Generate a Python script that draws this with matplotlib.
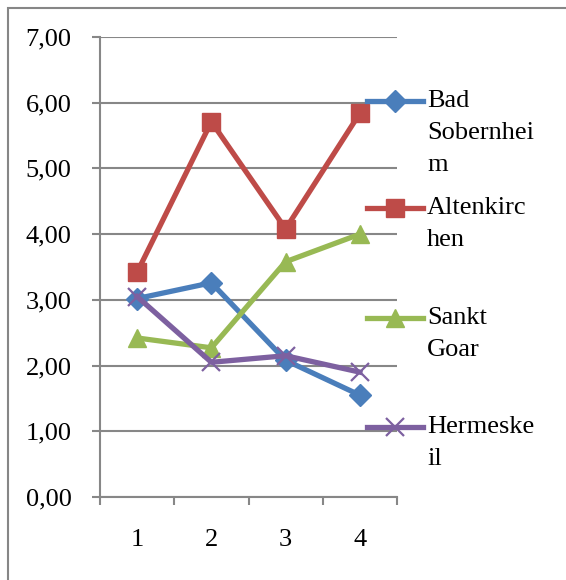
import matplotlib
matplotlib.use("Agg")
import matplotlib.pyplot as plt
from matplotlib.lines import Line2D
from matplotlib.patches import Rectangle

categories = [1, 2, 3, 4]
series_names = ["Bad\nSobernhei\nm", "Altenkirc\nhen", "Sankt\nGoar", "Hermeske\nil"]
bad_sobernheim = [3.02, 3.26, 2.08, 1.55]
altenkirchen = [3.42, 5.71, 4.08, 5.84]
sankt_goar = [2.42, 2.27, 3.58, 4.00]
hermeskeil = [3.05, 2.05, 2.15, 1.90]
y_ticks = [0, 1, 2, 3, 4, 5, 6, 7]
y_tick_labels = ["0,00", "1,00", "2,00", "3,00", "4,00", "5,00", "6,00", "7,00"]

colors = ["#4A7EBB", "#BE4B48", "#98B954", "#7D60A0"]
markers = ["D", "s", "^", "x"]
msizes = [11, 13, 13, 13]
values = [bad_sobernheim, altenkirchen, sankt_goar, hermeskeil]

W, H = 566, 580
fig = plt.figure(figsize=(W / 100, H / 100), dpi=100)
plt.rcParams['font.family'] = ['Liberation Serif', 'DejaVu Serif']
FS = 19

def fx(px):
    return px / W

def fy(py):
    return 1 - py / H

# outer border
fig.add_artist(Rectangle((fx(8), fy(590)), fx(570) - fx(8), fy(8) - fy(590),
                         transform=fig.transFigure, fill=False,
                         edgecolor="#868686", linewidth=1.5))

ax = fig.add_axes([fx(100), fy(497), fx(397) - fx(100), fy(37) - fy(497)])
grid_c = "#878787"
ax.set_xlim(0.5, 4.5)
ax.set_ylim(0, 7)
for s in ["top", "right"]:
    ax.spines[s].set_visible(False)
for s in ["left", "bottom"]:
    ax.spines[s].set_color(grid_c)
    ax.spines[s].set_linewidth(1.5)
ax.set_yticks(y_ticks)
ax.set_yticklabels(y_tick_labels)
ax.yaxis.grid(True, color=grid_c, linewidth=1.5)
ax.set_axisbelow(True)
ax.tick_params(axis="y", length=6, width=1.5, color=grid_c, pad=14.5, labelsize=FS)
ax.set_xticks(categories)
ax.set_xticklabels([str(c) for c in categories])
ax.set_xticks([0.5, 1.5, 2.5, 3.5, 4.5], minor=True)
ax.tick_params(axis="x", which="major", length=0, pad=23, labelsize=FS)
ax.tick_params(axis="x", which="minor", length=6, width=1.5, color=grid_c)

for vals, c, m, ms in zip(values, colors, markers, msizes):
    kw = dict(color=c, linewidth=3.8, marker=m, markersize=ms, clip_on=False)
    if m == "x":
        kw.update(markeredgewidth=1.6)
    ax.plot(categories, vals, **kw)

# legend (manual, Excel-like wrapped labels)
leg_y = [101, 208, 318, 427]
for name, c, m, ms, y in zip(series_names, colors, markers, msizes, leg_y):
    kw = dict(color=c, linewidth=3.8, transform=fig.transFigure)
    fig.add_artist(Line2D([fx(367), fx(423)], [fy(y), fy(y)], **kw))
    mk = dict(color=c, marker=m, markersize=ms, linestyle="none", transform=fig.transFigure)
    if m == "x":
        mk.update(markeredgewidth=1.6)
    fig.add_artist(Line2D([fx(395)], [fy(y)], **mk))
    for i, line in enumerate(name.split("\n")):
        fig.text(fx(427), fy(y + i * 32), line, fontsize=FS, va="center", ha="left")

fig.savefig("out.png", dpi=100)
